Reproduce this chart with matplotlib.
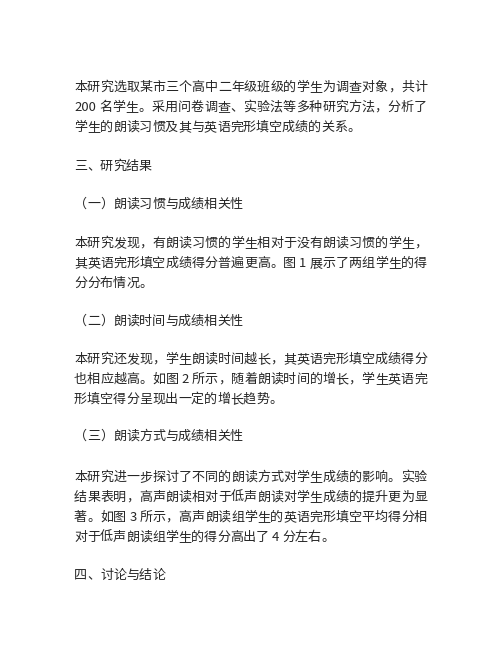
import re
import matplotlib
matplotlib.use("Agg")
import matplotlib.pyplot as plt
from matplotlib.font_manager import FontProperties

plt.rcParams['font.family'] = ['Noto Sans CJK SC', 'DejaVu Sans']

W, H = 500, 647
lines = [
    "本研究选取某市三个高中二年级班级的学生为调查对象，共计",
    "200 名学生。采用问卷调查、实验法等多种研究方法，分析了",
    "学生的朗读习惯及其与英语完形填空成绩的关系。",
    "三、研究结果",
    "（一）朗读习惯与成绩相关性",
    "本研究发现，有朗读习惯的学生相对于没有朗读习惯的学生，",
    "其英语完形填空成绩得分普遍更高。图 1 展示了两组学生的得",
    "分分布情况。",
    "（二）朗读时间与成绩相关性",
    "本研究还发现，学生朗读时间越长，其英语完形填空成绩得分",
    "也相应越高。如图 2 所示，随着朗读时间的增长，学生英语完",
    "形填空得分呈现出一定的增长趋势。",
    "（三）朗读方式与成绩相关性",
    "本研究进一步探讨了不同的朗读方式对学生成绩的影响。实验",
    "结果表明，高声朗读相对于低声朗读对学生成绩的提升更为显",
    "著。如图 3 所示，高声朗读组学生的英语完形填空平均得分相",
    "对于低声朗读组学生的得分高出了 4 分左右。",
    "四、讨论与结论",
]
line_y = [87, 107, 127, 166, 204, 243, 263, 283, 321, 359, 379, 399,
          436, 477, 497, 517, 537, 575]
justify = [True, True, False, False, False, True, True, False, False,
           True, True, False, False, True, True, True, False, False]

LEFT, RIGHT = 74, 427

fig = plt.figure(figsize=(W / 100, H / 100), dpi=100)
fig.patch.set_facecolor('white')
ax = fig.add_axes([0, 0, 1, 1])
ax.set_xlim(0, W)
ax.set_ylim(H, 0)
ax.axis('off')

prop = FontProperties(family=['Noto Sans CJK SC', 'DejaVu Sans'], size=9.4)
renderer = fig.canvas.get_renderer()


def tw(s):
    w, h, d = renderer.get_text_width_height_descent(s, prop, ismath=False)
    return w


BASE = tw('口口')


def adv(tok):
    return tw('口' + tok + '口') - BASE


for txt, y, just in zip(lines, line_y, justify):
    tokens = re.findall(r'[0-9A-Za-z]+|.', txt)
    widths = [adv(t) for t in tokens]
    total = sum(widths)
    gap = (RIGHT - LEFT - total) / (len(tokens) - 1) if just else 0.0
    x = LEFT
    for t, w in zip(tokens, widths):
        if t != ' ':
            ax.text(x, y + 4, t, fontproperties=prop, color='#262626',
                    va='baseline', ha='left')
        x += w + gap

fig.savefig('out.png', dpi=100, facecolor='white')
